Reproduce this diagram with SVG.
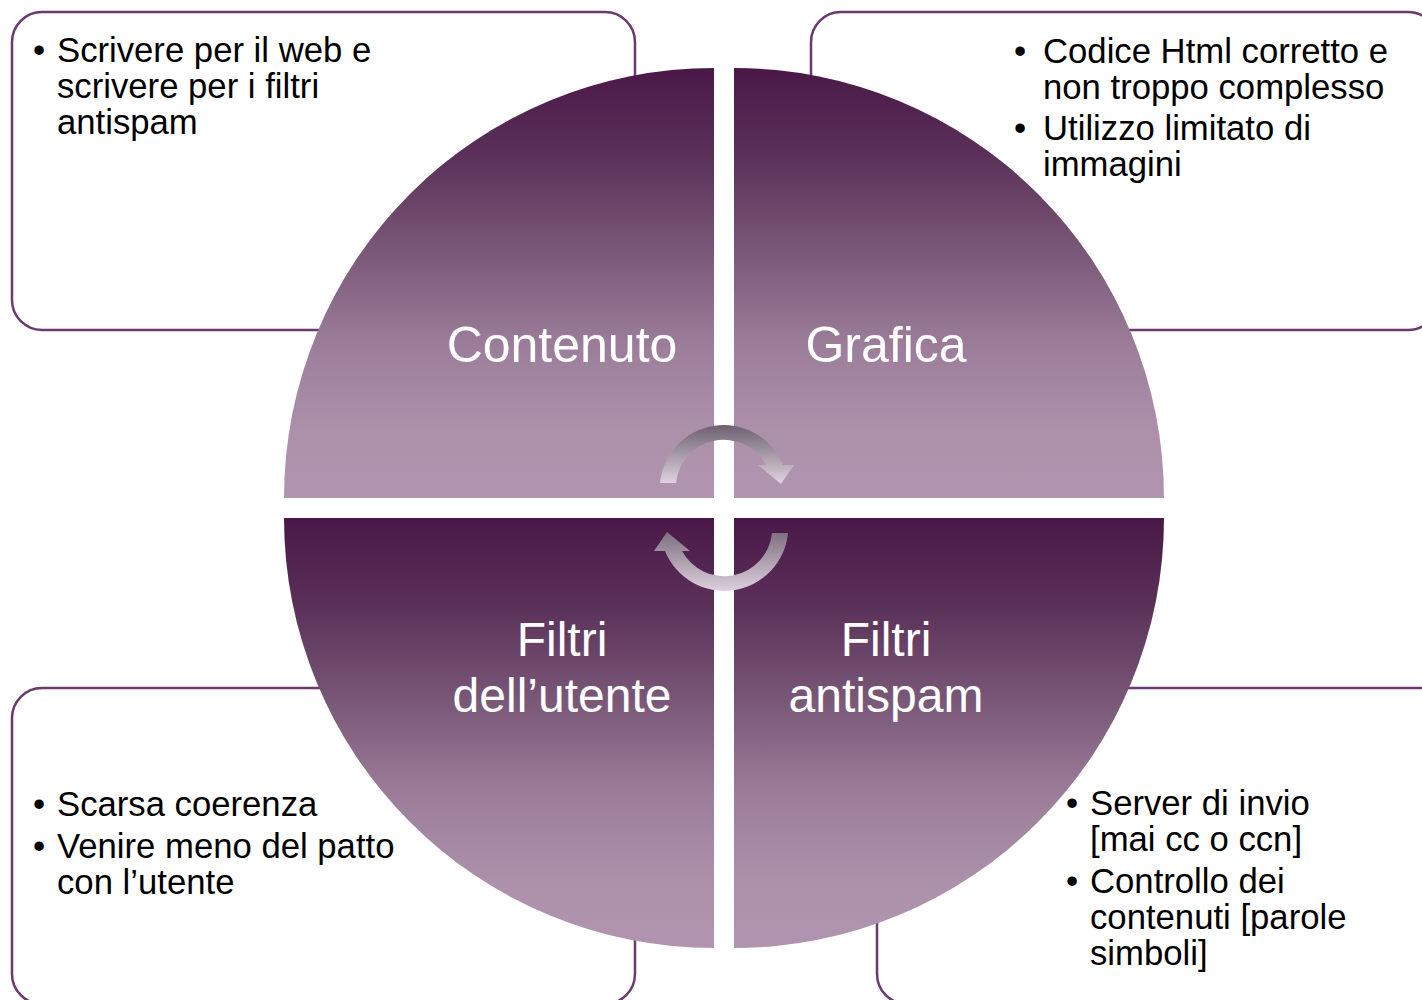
<svg xmlns="http://www.w3.org/2000/svg" width="1422" height="1000" viewBox="0 0 1422 1000">
  <defs>
    <linearGradient id="quadGrad" x1="0" y1="0" x2="0" y2="1">
      <stop offset="0" stop-color="#4a1848"/>
      <stop offset="0.2" stop-color="#5a3058"/>
      <stop offset="0.45" stop-color="#7d5c7b"/>
      <stop offset="0.65" stop-color="#9c7e9a"/>
      <stop offset="0.85" stop-color="#ad91ab"/>
      <stop offset="1" stop-color="#b195b0"/>
    </linearGradient>
    <linearGradient id="arrowGrad" x1="0" y1="0" x2="0" y2="1">
      <stop offset="0" stop-color="#6e606f"/>
      <stop offset="1" stop-color="#e0d4e0"/>
    </linearGradient>
    <linearGradient id="arrowGradRev" x1="0" y1="1" x2="0" y2="0">
      <stop offset="0" stop-color="#7e6f80"/>
      <stop offset="1" stop-color="#ddd0dd"/>
    </linearGradient>
    <style>
      .box { fill: #ffffff; stroke: #6a3a6e; stroke-width: 2.5; }
      .quad { fill: url(#quadGrad); }
      .qlabel { font-family: "Liberation Sans", Arial, sans-serif; font-size: 50px; fill: #ffffff; text-anchor: middle; }
      .qlabel2 { font-family: "Liberation Sans", Arial, sans-serif; font-size: 48px; fill: #ffffff; text-anchor: middle; }
      .btext { font-family: "Liberation Sans", Arial, sans-serif; font-size: 34.7px; fill: #000000; }
    </style>
  </defs>
  <rect width="1422" height="1000" fill="#ffffff"/>

  <g id="box-top-left">
    <rect class="box" x="12" y="12" width="623" height="318" rx="30" ry="30"/>
    <text class="btext" x="33" y="62">•</text>
    <text class="btext" x="57" y="62">Scrivere per il web e</text>
    <text class="btext" x="57" y="98">scrivere per i filtri</text>
    <text class="btext" x="57" y="134">antispam</text>
  </g>
  <g id="box-top-right">
    <rect class="box" x="811" y="12" width="627" height="318" rx="30" ry="30"/>
    <text class="btext" x="1014" y="63">•</text>
    <text class="btext" x="1043" y="63">Codice Html corretto e</text>
    <text class="btext" x="1043" y="99">non troppo complesso</text>
    <text class="btext" x="1014" y="140">•</text>
    <text class="btext" x="1043" y="140">Utilizzo limitato di</text>
    <text class="btext" x="1043" y="176">immagini</text>
  </g>
  <g id="box-bottom-left">
    <rect class="box" x="12" y="688" width="623" height="316" rx="30" ry="30"/>
    <text class="btext" x="33" y="816">•</text>
    <text class="btext" x="57" y="816">Scarsa coerenza</text>
    <text class="btext" x="33" y="858">•</text>
    <text class="btext" x="57" y="858">Venire meno del patto</text>
    <text class="btext" x="57" y="894">con l’utente</text>
  </g>
  <g id="box-bottom-right">
    <rect class="box" x="877" y="688" width="627" height="316" rx="30" ry="30"/>
    <text class="btext" x="1066" y="815">•</text>
    <text class="btext" x="1090" y="815">Server di invio</text>
    <text class="btext" x="1090" y="851">[mai cc o ccn]</text>
    <text class="btext" x="1066" y="893">•</text>
    <text class="btext" x="1090" y="893">Controllo dei</text>
    <text class="btext" x="1090" y="929">contenuti [parole</text>
    <text class="btext" x="1090" y="965">simboli]</text>
  </g>

  <g id="quad-contenuto">
    <path class="quad" d="M714,498 L284,498 A430,430 0 0 1 714,68 Z"/>
    <text class="qlabel" x="562" y="362">Contenuto</text>
  </g>
  <g id="quad-grafica">
    <path class="quad" d="M734,498 L734,68 A430,430 0 0 1 1164,498 Z"/>
    <text class="qlabel" x="886" y="362">Grafica</text>
  </g>
  <g id="quad-filtri-utente">
    <path class="quad" d="M714,518 L714,948 A430,430 0 0 1 284,518 Z"/>
    <text class="qlabel2" x="562" y="656">Filtri</text>
    <text class="qlabel2" x="562" y="712">dell’utente</text>
  </g>
  <g id="quad-filtri-antispam">
    <path class="quad" d="M734,518 L1164,518 A430,430 0 0 1 734,948 Z"/>
    <text class="qlabel2" x="886" y="656">Filtri</text>
    <text class="qlabel2" x="886" y="712">antispam</text>
  </g>

  <g id="connectors">
    <path fill="url(#arrowGrad)" d="M676,483 L660,483 A64,64 0 0 1 783,465 L794,465 L781,484 L758,465 L766,465 A48,48 0 0 0 676,483 Z"/>
    <path fill="url(#arrowGradRev)" transform="rotate(180 724 508)" d="M676,483 L660,483 A64,64 0 0 1 783,465 L794,465 L781,484 L758,465 L766,465 A48,48 0 0 0 676,483 Z"/>
  </g>
</svg>
